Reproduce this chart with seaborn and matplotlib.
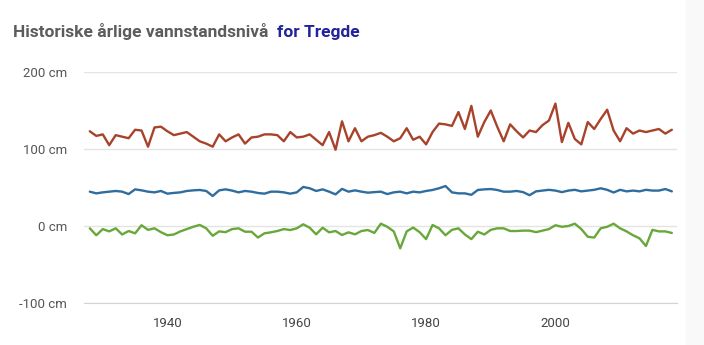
import pandas as pd
import seaborn as sns
import matplotlib.pyplot as plt
from matplotlib.patches import Rectangle

# Årlige vannstandsnivå for Tregde (cm)
aar = list(range(1928, 2019))

hoyeste = [123, 117, 119, 105, 118, 116, 114, 125, 124, 103,
           128, 129, 123, 118, 120, 122, 116, 110, 107, 103,
           119, 110, 115, 119, 107, 115, 116, 119, 119, 118,
           110, 122, 115, 116, 119, 112, 105, 122, 99, 136,
           110, 127, 110, 116, 118, 121, 116, 110, 114, 127,
           112, 116, 106, 122, 133, 132, 130, 148, 126, 156,
           116, 135, 150, 129, 110, 132, 123, 115, 124, 122,
           131, 137, 159, 109, 134, 113, 106, 135, 126, 139,
           151, 124, 110, 127, 120, 124, 122, 124, 126, 120,
           125]

middel = [44.6, 42.4, 43.7, 44.6, 45.5, 44.6, 41.5, 47.6, 46.3, 44.6,
          43.7, 45.5, 42.0, 43.0, 43.7, 45.5, 46.3, 46.8, 45.5, 39.0,
          46.3, 47.6, 46.0, 43.7, 45.5, 44.6, 42.9, 42.0, 44.6, 44.6,
          43.7, 42.0, 43.7, 50.7, 49.0, 45.5, 47.6, 44.6, 41.1, 48.2,
          44.6, 46.3, 44.6, 43.3, 44.0, 44.6, 41.5, 43.7, 44.6, 42.4,
          44.6, 43.7, 45.5, 46.8, 49.0, 51.9, 43.7, 42.4, 42.4, 40.5,
          46.8, 47.6, 48.0, 46.8, 44.6, 44.6, 45.5, 44.0, 40.0, 45.0,
          46.0, 47.0, 46.0, 44.0, 46.0, 47.0, 45.0, 46.0, 47.0, 49.0,
          47.0, 43.5, 47.0, 45.0, 46.0, 45.0, 47.0, 46.0, 46.0, 48.0,
          45.0]

laveste = [-3, -12, -4, -7, -3, -11, -6.5, -9.5, 1, -5,
           -3, -8, -12, -11, -7, -4, -1, 1.4, -3, -12.7,
           -7, -8, -4, -3, -7.4, -7.4, -15, -9.5, -8.2, -6.5,
           -4, -5.2, -3, 2.2, -2.2, -10.8, -2.2, -8.2, -6.5, -11.7,
           -8.2, -10.8, -6.5, -5.2, -9, 3, -1, -7, -29, -7,
           -2, -8, -17, 1.3, -3, -12, -5, -3, -11, -17,
           -7.4, -11, -5, -3, -3, -6.5, -6.5, -6, -6, -8,
           -6, -4, 1, -1, 0, 3, -4, -14, -15, -3,
           -1, 3, -3, -7, -12, -16, -26, -5, -7, -7,
           -9]

serier = ["Høyeste", "Middel", "Laveste"]
farger = ["#a8432b", "#2f6d9e", "#68a83a"]

df = pd.DataFrame({"år": aar, "Høyeste": hoyeste, "Middel": middel, "Laveste": laveste})
df_long = df.melt(id_vars="år", var_name="serie", value_name="cm")

sns.set_style("white")
plt.rcParams["font.family"] = ["Roboto", "DejaVu Sans"]

fig = plt.figure(figsize=(7.04, 3.45), dpi=100)
# svak grå kant til høyre som i originalen
fig.patches.append(Rectangle((686 / 704, 0), 18 / 704, 1, transform=fig.transFigure,
                             color="#f9f9f9", zorder=0))
ax = fig.add_axes([84 / 704, 0.1217, 593 / 704, 0.6696])

sns.lineplot(data=df_long, x="år", y="cm", hue="serie", hue_order=serier,
             palette=farger, linewidth=1.7, legend=False, ax=ax)

ax.set_xlim(1927.1, 2018.8)
ax.set_ylim(-100, 200)
ax.set_yticks([-100, 0, 100, 200])
ax.set_yticklabels([f"{v} cm" for v in [-100, 0, 100, 200]])
ax.set_xticks([1940, 1960, 1980, 2000])
ax.set_xlabel("")
ax.set_ylabel("")

ax.grid(True, axis="y", color="#e4e4e4", linewidth=1)
ax.set_axisbelow(True)
for s in ["top", "right", "left"]:
    ax.spines[s].set_visible(False)
ax.spines["bottom"].set_color("#d4d4d4")
ax.tick_params(axis="y", length=0, pad=12, labelsize=9.5, labelcolor="#555555")
ax.tick_params(axis="x", length=6, color="#d4d4d4", pad=4, labelsize=9.5, labelcolor="#444444")

# tittel i to farger
t1 = fig.text(13 / 704, 0.893, "Historiske årlige vannstandsnivå", fontsize=12.5,
              fontweight="bold", color="#5c5c5c", va="baseline")
fig.canvas.draw()
bb = t1.get_window_extent()
fig.text((bb.x1 + 9) / 704, 0.893, "for Tregde", fontsize=12.5,
         fontweight="bold", color="#22229a", va="baseline")

fig.savefig("out.png", dpi=100, facecolor="white")
